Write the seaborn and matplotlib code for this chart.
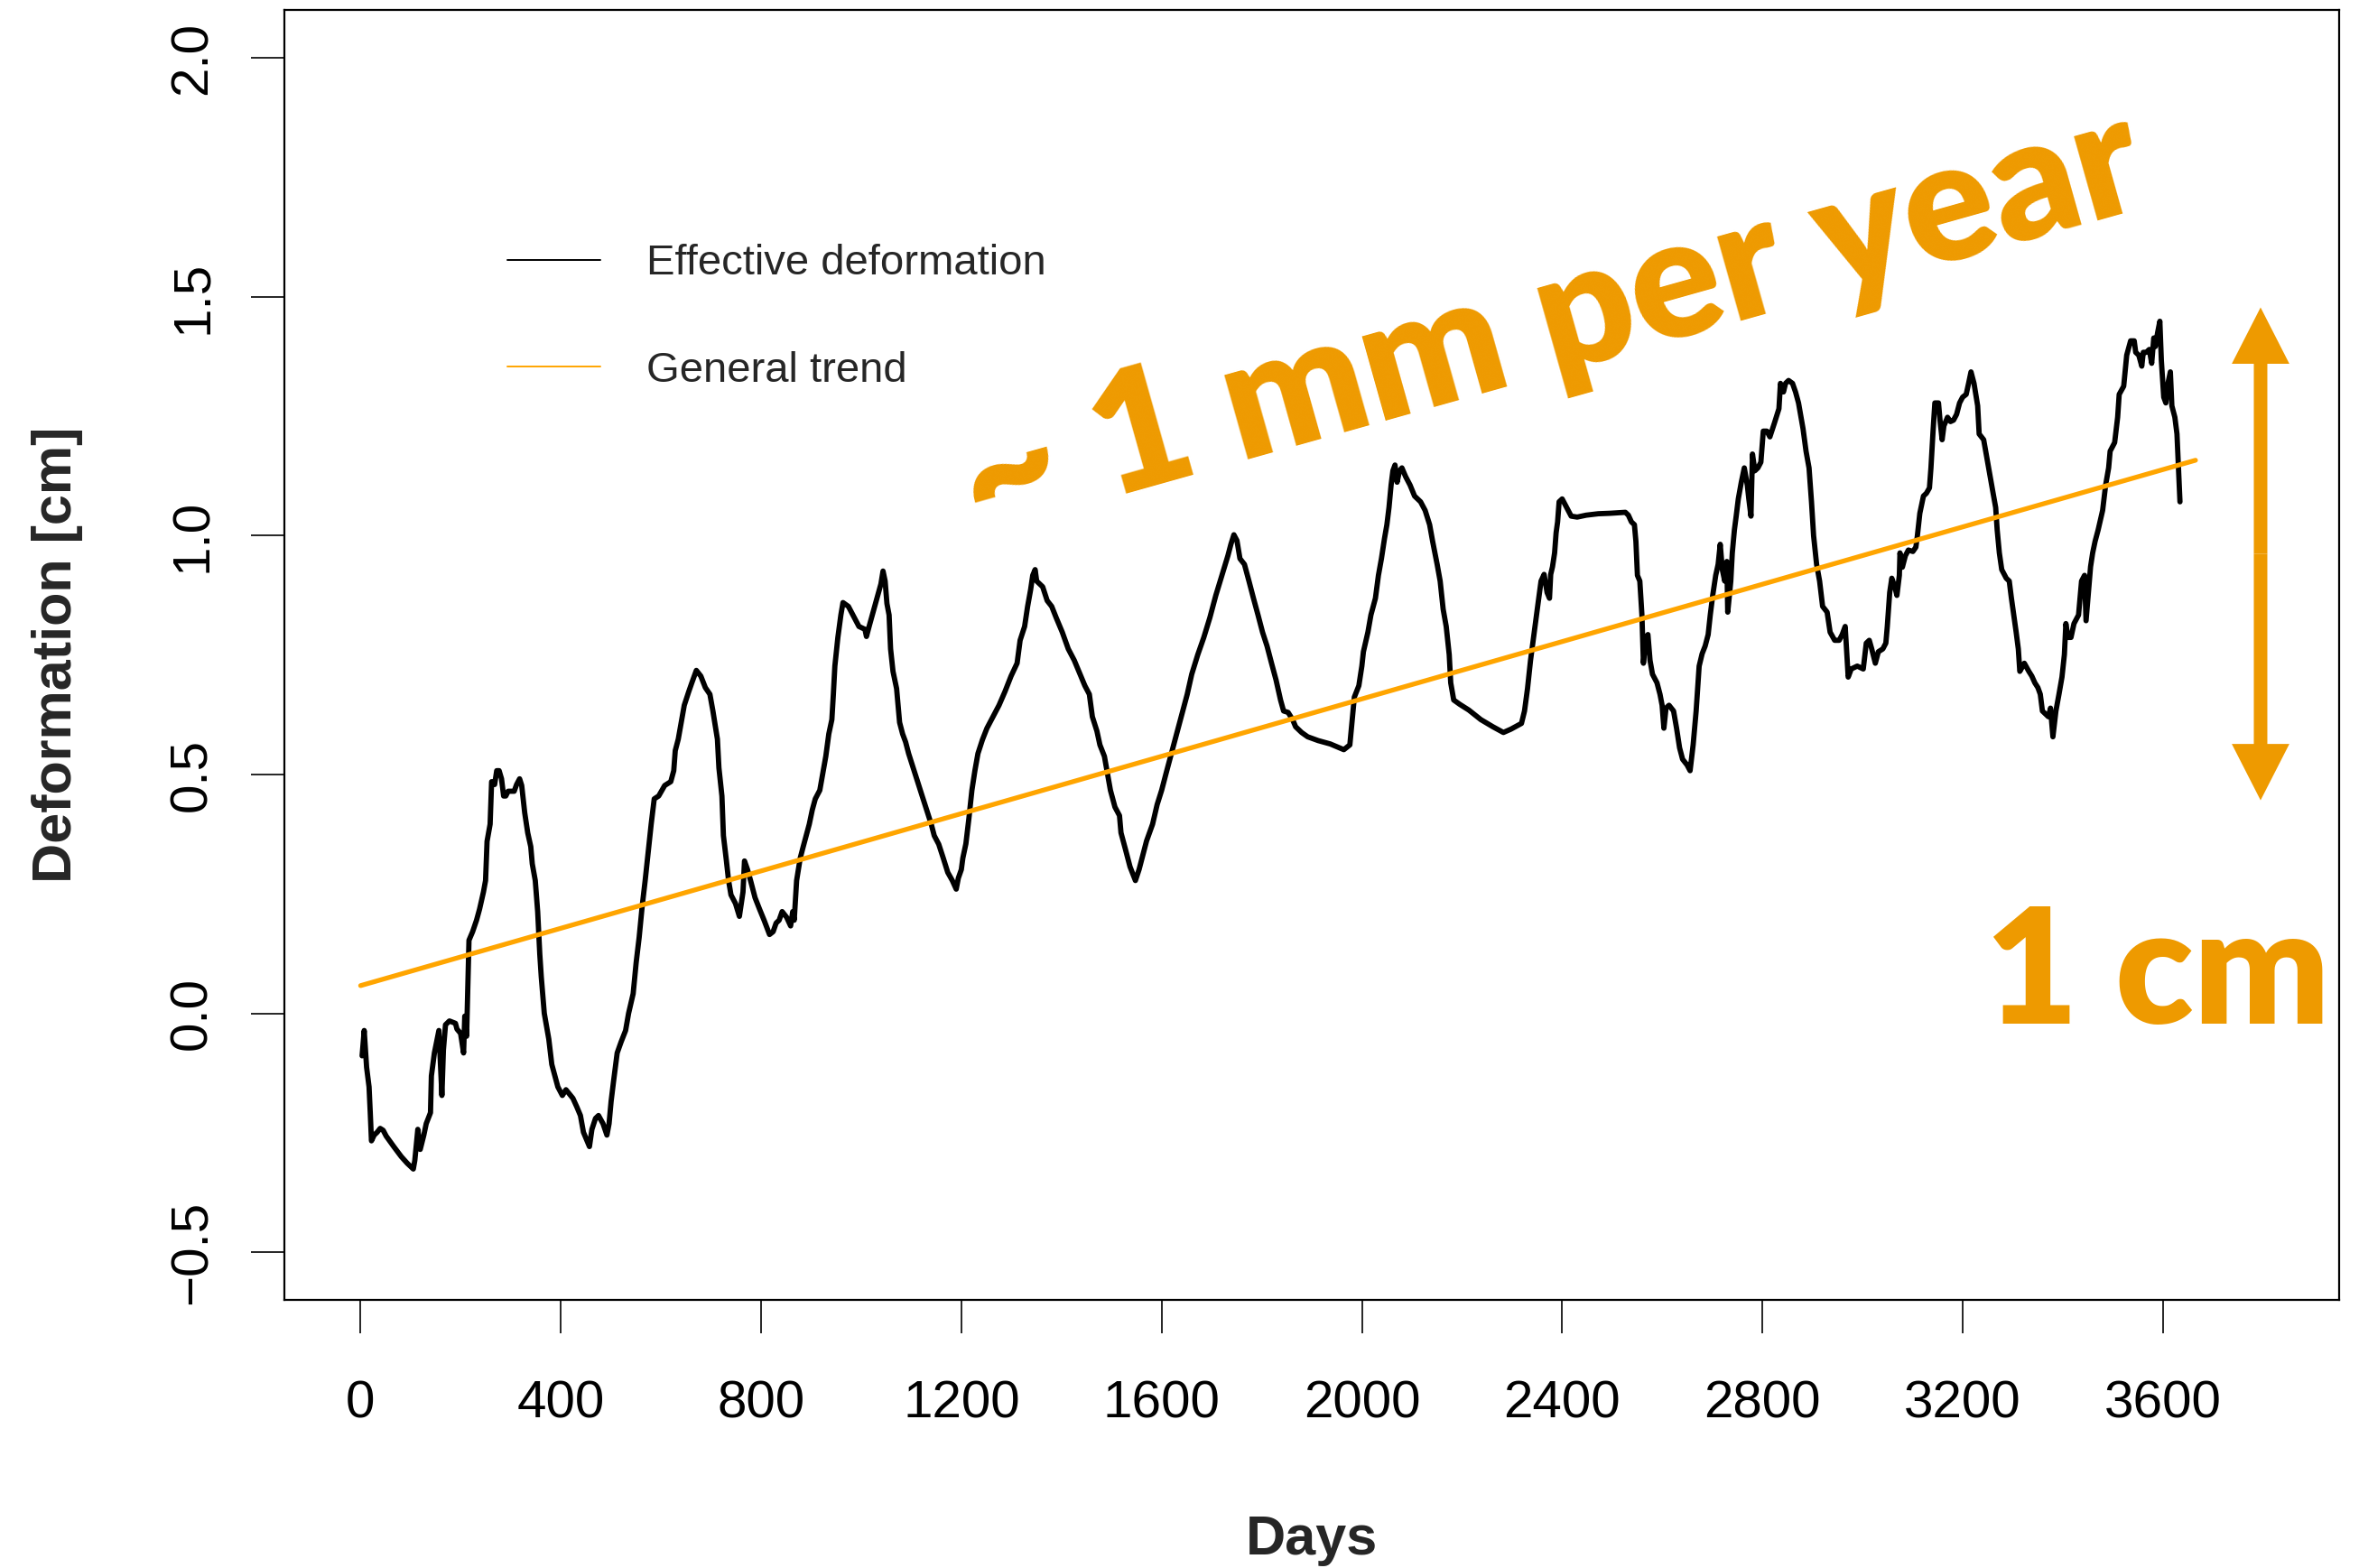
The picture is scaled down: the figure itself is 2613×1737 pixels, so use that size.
import matplotlib
matplotlib.use("Agg")
import matplotlib.pyplot as plt
import pandas as pd
import seaborn as sns
from matplotlib.lines import Line2D

# Measured surface deformation (days since start of record, cm)
days = [
    3.0, 7.2, 12.0, 16.9, 19.3, 21.7, 27.1, 33.1, 39.1, 45.1, 51.1, 66.2, 81.2, 93.2,
    105.3, 108.3, 114.3, 119.1, 126.3, 131.1, 139.6, 141.4, 147.4, 156.4, 162.4, 165.4,
    169.6, 177.4, 189.5, 192.5, 199.7, 205.7, 208.1, 211.7, 216.5, 223.8, 231.6, 237.6,
    245.4, 249.6, 252.6, 258.7, 261.7, 267.7, 271.9, 276.7, 281.5, 285.7, 290.0, 294.7,
    306.8, 311.6, 317.6, 321.8, 327.8, 333.8, 339.9, 342.9, 348.9, 353.7, 357.9, 360.9,
    366.9, 375.9, 381.9, 388.0, 394.0, 403.0, 410.2, 424.1, 431.9, 439.1, 445.1, 457.1,
    462.0, 469.2, 475.2, 484.2, 492.0, 496.3, 500.4, 505.3, 512.5, 520.3, 529.3, 535.3,
    544.4, 550.4, 556.4, 562.4, 568.4, 574.4, 580.4, 586.5,
    595.4, 607.4, 619.5, 625.5, 628.5, 634.5, 640.5, 646.5, 655.6, 661.6, 670.6, 679.6,
    688.6, 697.7, 703.7, 712.7, 715.7, 721.7, 724.7, 730.7, 735.0, 739.8, 748.8, 756.6,
    763.8, 766.8, 772.8, 778.9, 787.9, 796.9, 805.9, 816.8, 824.0, 830.0, 836.0, 842.0,
    851.0, 858.9, 863.1, 866.1, 870.9, 878.1, 884.1, 890.1, 896.2, 902.2, 908.2, 917.2,
    923.2, 929.2, 935.2, 941.3, 944.3, 947.3, 953.3, 959.3, 963.5, 974.3, 983.4, 995.4,
    1007.4, 1010.4, 1016.5, 1023.7, 1031.5, 1039.3, 1043.5, 1047.7, 1051.3, 1055.6,
    1058.6, 1063.4, 1070.6, 1076.6, 1082.6, 1088.6, 1094.6, 1103.7, 1112.7, 1121.7,
    1130.7, 1139.8, 1145.8, 1154.8, 1163.8, 1172.8, 1181.9, 1189.7, 1193.9, 1199.9, 1202.9,
    1209.0, 1215.0, 1221.0, 1227.0, 1233.1, 1242.1, 1251.1, 1263.1, 1275.2, 1287.2,
    1299.2, 1311.3, 1317.3, 1326.3, 1332.3, 1338.3, 1342.5, 1347.3, 1350.4, 1362.4,
    1371.4, 1380.4, 1389.5, 1401.5, 1413.5, 1425.5, 1434.6, 1446.6, 1455.6, 1461.6,
    1470.7, 1476.7, 1485.7, 1491.7, 1497.7, 1506.7, 1515.8, 1518.8, 1527.8, 1536.8,
    1547.6, 1554.9, 1560.9, 1569.9, 1581.9, 1591.0, 1600.0, 1609.0, 1618.0, 1627.1,
    1639.1, 1651.1, 1660.1, 1672.2, 1684.2, 1696.2, 1708.2, 1720.3, 1732.3, 1738.3,
    1744.3, 1750.4, 1756.4, 1765.4, 1774.4, 1783.4, 1792.5, 1801.5, 1810.5, 1819.5, 1828.5,
    1837.5, 1843.6, 1852.6, 1861.6, 1867.6, 1879.6, 1891.7, 1912.7, 1936.8, 1963.9,
    1975.9, 1980.1, 1984.9, 1993.9, 1999.9, 2003.0, 2012.0, 2018.0, 2027.0, 2033.0,
    2039.0, 2045.1, 2049.9, 2054.1, 2058.3, 2061.9, 2066.1, 2070.3, 2075.1, 2079.9,
    2087.2, 2096.2, 2105.2, 2117.2, 2126.3, 2135.3, 2141.3, 2150.3, 2156.3, 2162.3,
    2168.4, 2174.4, 2177.4, 2183.4, 2195.4, 2213.5, 2237.5, 2261.6, 2282.6, 2297.7,
    2318.7, 2324.8, 2330.8, 2336.8, 2342.8, 2351.8, 2357.8, 2363.9, 2369.9, 2374.7,
    2377.1, 2380.7, 2384.9, 2387.9, 2390.9, 2393.9, 2400.0, 2409.0, 2418.0, 2430.0,
    2448.0, 2472.1, 2496.2, 2526.2, 2532.2, 2538.3, 2544.3, 2547.3, 2550.3, 2555.1,
    2559.3, 2562.3, 2567.1, 2571.3, 2575.5, 2580.4, 2589.4, 2595.4, 2599.6, 2603.2,
    2607.4, 2613.4, 2622.5, 2628.5, 2634.5, 2640.5, 2649.5, 2655.5, 2661.6, 2667.6,
    2673.6, 2679.6, 2685.6, 2691.6, 2695.8, 2700.7, 2706.7, 2711.5, 2715.7, 2719.9,
    2724.7, 2728.9, 2730.7, 2736.8, 2739.8, 2744.0, 2747.6, 2751.8, 2757.8, 2763.8,
    2769.8, 2772.8, 2777.1, 2780.1, 2784.9, 2790.9, 2796.9, 2801.7, 2808.9, 2814.9,
    2824.0, 2833.0, 2836.0, 2842.0, 2846.2, 2852.2, 2860.1, 2866.1, 2872.1, 2881.1,
    2887.1, 2893.1, 2898.0, 2902.2, 2908.2, 2914.2, 2920.2, 2929.2, 2935.2, 2944.3,
    2953.3, 2959.3, 2965.3, 2971.3, 2977.4, 2989.4, 3001.4, 3007.4, 3013.4, 3018.3,
    3025.5, 3031.5, 3040.5, 3046.5,
    3049.4, 3054.2, 3058.4, 3064.4, 3068.6, 3073.5, 3074.7, 3079.5, 3085.5, 3091.5,
    3100.5, 3106.5, 3109.5, 3114.4, 3121.6, 3127.6, 3133.6, 3136.6, 3140.8, 3144.4,
    3151.7, 3154.7, 3158.9, 3162.5, 3169.7, 3175.7, 3181.7, 3187.8, 3193.8, 3199.8,
    3207.0, 3211.8, 3216.6, 3222.6, 3229.9, 3232.9, 3241.9, 3247.9, 3253.9, 3259.9,
    3265.9, 3268.9, 3273.2, 3278.0, 3287.0, 3293.0, 3297.2, 3302.0, 3306.8, 3311.1,
    3314.1, 3323.1, 3332.1, 3338.1, 3344.1, 3350.2, 3355.0, 3359.2, 3365.2, 3371.2,
    3375.4, 3380.2, 3386.2, 3392.3, 3398.3, 3403.1, 3406.1, 3410.3, 3416.3, 3422.3,
    3431.4, 3437.4, 3443.4, 3446.4, 3451.2, 3455.4, 3459.6, 3464.4, 3470.5, 3479.5,
    3485.5, 3491.5, 3494.5, 3503.5, 3509.5, 3512.6, 3521.6, 3527.6, 3535.4, 3542.6,
    3545.6, 3551.7, 3557.7, 3560.7, 3566.7, 3572.7, 3577.5, 3581.7, 3584.7, 3589.5,
    3593.8, 3596.8, 3601.6, 3605.8, 3610.0, 3614.8, 3617.8, 3623.8, 3628.0, 3631.0, 3634.0,
]
deformation = [
    -0.089, -0.036, -0.113, -0.154, -0.208, -0.267, -0.255, -0.249, -0.241, -0.245, -0.257,
    -0.279, -0.300, -0.314, -0.326, -0.308, -0.243, -0.285, -0.255, -0.231, -0.208, -0.131,
    -0.083, -0.036, -0.172, -0.077, -0.024, -0.016, -0.021, -0.033, -0.042, -0.083, -0.006,
    -0.048, 0.153, 0.171, 0.195, 0.218, 0.254, 0.278, 0.360, 0.396, 0.485, 0.479, 0.508,
    0.508, 0.491, 0.455, 0.455, 0.465, 0.465, 0.479, 0.491, 0.477, 0.420, 0.378, 0.349,
    0.313, 0.278, 0.213, 0.124, 0.076, 0.000, -0.054, -0.107, -0.131, -0.154, -0.172,
    -0.160, -0.178, -0.196, -0.214, -0.249, -0.279, -0.243, -0.220, -0.214, -0.231, -0.255,
    -0.231, -0.184, -0.142, -0.083, -0.060, -0.036, 0.000, 0.041, 0.106, 0.159, 0.224,
    0.278, 0.337, 0.396, 0.449,
    0.455, 0.477, 0.485, 0.508, 0.550, 0.574, 0.609, 0.645, 0.674, 0.692, 0.718, 0.706,
    0.682, 0.668, 0.633, 0.574, 0.514, 0.455, 0.372, 0.319, 0.278, 0.248, 0.230, 0.203,
    0.254, 0.319, 0.301, 0.278, 0.242, 0.218, 0.195, 0.165, 0.171, 0.189, 0.195, 0.213,
    0.201, 0.183, 0.213, 0.195, 0.278, 0.325, 0.349, 0.372, 0.396, 0.426, 0.449, 0.467,
    0.502, 0.538, 0.585, 0.615, 0.668, 0.727, 0.787, 0.834, 0.860, 0.852, 0.834, 0.810,
    0.804, 0.789, 0.813, 0.840, 0.870, 0.899, 0.926, 0.905, 0.858, 0.834,
    0.763, 0.716, 0.680, 0.609, 0.585, 0.568, 0.544, 0.514, 0.485, 0.455,
    0.426, 0.396, 0.372, 0.354, 0.325, 0.295, 0.278, 0.260, 0.283, 0.301, 0.325,
    0.355, 0.408, 0.467, 0.508, 0.544, 0.573, 0.597, 0.621, 0.645, 0.674,
    0.706, 0.733, 0.781, 0.810, 0.852, 0.887, 0.917, 0.929, 0.905, 0.893,
    0.864, 0.852, 0.828, 0.798, 0.763, 0.739, 0.716, 0.686, 0.668, 0.621,
    0.591, 0.562, 0.538, 0.503, 0.467, 0.432, 0.414, 0.378, 0.343, 0.307,
    0.278, 0.301, 0.325, 0.361, 0.396, 0.437, 0.467, 0.503, 0.538, 0.574,
    0.621, 0.668, 0.710, 0.751, 0.787, 0.828, 0.875, 0.917, 0.958, 0.982,
    1.002, 0.990, 0.952, 0.940, 0.905, 0.869, 0.834, 0.798, 0.769, 0.733, 0.698,
    0.656, 0.633, 0.630, 0.615, 0.600, 0.588, 0.579, 0.571, 0.564, 0.552,
    0.562, 0.609, 0.662, 0.686, 0.727, 0.757, 0.798, 0.834, 0.869, 0.917,
    0.952, 0.994, 1.023, 1.059, 1.106, 1.136, 1.148, 1.112, 1.136, 1.142,
    1.124, 1.106, 1.083, 1.071, 1.053, 1.023, 0.988, 0.940, 0.905, 0.846,
    0.810, 0.751, 0.692, 0.656, 0.647, 0.635, 0.615, 0.600, 0.588, 0.595,
    0.607, 0.633, 0.680, 0.739, 0.787, 0.858, 0.905, 0.919, 0.881, 0.869,
    0.919, 0.935, 0.964, 1.006, 1.029, 1.071, 1.077, 1.059, 1.041, 1.039,
    1.043, 1.046, 1.047, 1.049, 1.043, 1.029, 1.023, 0.988, 0.917, 0.905,
    0.834, 0.733, 0.787, 0.793, 0.739, 0.710, 0.692, 0.668, 0.645, 0.597,
    0.639, 0.645, 0.633, 0.597, 0.556, 0.532, 0.520, 0.508, 0.562, 0.633,
    0.727, 0.753, 0.769, 0.793, 0.834, 0.875, 0.917, 0.940, 0.982, 0.929,
    0.905, 0.946, 0.840, 0.905, 0.964, 1.012, 1.041, 1.077, 1.112, 1.142,
    1.106, 1.077, 1.041, 1.171, 1.136, 1.142, 1.154, 1.219, 1.219, 1.207,
    1.236, 1.266, 1.319, 1.301, 1.319, 1.325, 1.319, 1.301, 1.278, 1.224,
    1.177, 1.142, 1.071, 1.000, 0.940, 0.905, 0.852, 0.840, 0.798, 0.781,
    0.781, 0.793, 0.810, 0.704, 0.721, 0.727, 0.721, 0.775, 0.781, 0.763,
    0.733, 0.757, 0.763, 0.775,
    0.810, 0.881, 0.911, 0.893, 0.875, 0.917, 0.964, 0.934, 0.958, 0.970,
    0.967, 0.976, 1.000, 1.047, 1.083, 1.089, 1.100, 1.142, 1.219, 1.278,
    1.278, 1.242, 1.201, 1.230, 1.248, 1.239, 1.242, 1.254, 1.278, 1.290,
    1.296, 1.319, 1.343, 1.319, 1.272, 1.213, 1.201, 1.165, 1.130, 1.094,
    1.059, 1.012, 0.964, 0.929, 0.911, 0.905, 0.870, 0.834, 0.798, 0.763,
    0.716, 0.733, 0.716, 0.706, 0.692, 0.682, 0.668, 0.633, 0.627, 0.621,
    0.639, 0.579, 0.633, 0.668, 0.704, 0.751, 0.816, 0.787, 0.787, 0.816,
    0.834, 0.905, 0.917, 0.822, 0.881, 0.935, 0.964, 0.988, 1.012, 1.053,
    1.106, 1.142, 1.177, 1.195, 1.248, 1.296, 1.313, 1.378, 1.408, 1.408,
    1.384, 1.378, 1.355, 1.384, 1.384, 1.390, 1.361, 1.414, 1.396, 1.426,
    1.449, 1.367, 1.290, 1.278, 1.319, 1.343, 1.272, 1.248, 1.213, 1.142, 1.071,
]

# Fitted linear trend (start and end of the fitted line)
trend_days = [0, 3665]
trend_values = [0.058, 1.158]

x_ticks = [0, 400, 800, 1200, 1600, 2000, 2400, 2800, 3200, 3600]
y_ticks = [-0.5, 0.0, 0.5, 1.0, 1.5, 2.0]
y_tick_labels = ["\u22120.5", "0.0", "0.5", "1.0", "1.5", "2.0"]
series_labels = ["Effective deformation", "General trend"]
rate_label = "~ 1 mm per year"
span_label = "1 cm"
span_bottom, span_top = 0.446, 1.478

TREND_COLOR = "#FFA500"
NOTE_COLOR = "#EE9A00"

sns.set_style("ticks")
plt.rcParams["font.family"] = ["Liberation Sans", "DejaVu Sans"]
plt.rcParams["axes.unicode_minus"] = True

fig = plt.figure(figsize=(26.13, 17.37), dpi=100)
ax = fig.add_axes([0.1206, 0.1710, 0.8710, 0.8224])

obs = pd.DataFrame({"Days": days, "Deformation": deformation})
trend = pd.DataFrame({"Days": trend_days, "Deformation": trend_values})

sns.lineplot(data=obs, x="Days", y="Deformation", color="black", lw=4.2,
             estimator=None, sort=False, ax=ax, zorder=3)
sns.lineplot(data=trend, x="Days", y="Deformation", color=TREND_COLOR, lw=3.8,
             estimator=None, sort=False, ax=ax, zorder=4)

ax.set_xlim(-152, 3952)
ax.set_ylim(-0.6, 2.1)

ax.set_xticks(x_ticks)
ax.set_xticklabels([str(t) for t in x_ticks])
ax.set_yticks(y_ticks)
ax.set_yticklabels(y_tick_labels, rotation=90, va="center")

ax.tick_params(axis="both", direction="out", length=26.6, width=1.2,
               color="black", labelsize=42, labelcolor="black")
ax.tick_params(axis="x", pad=37)
ax.tick_params(axis="y", pad=27)

for side in ["left", "right", "top", "bottom"]:
    ax.spines[side].set_visible(True)
    ax.spines[side].set_color("black")
    ax.spines[side].set_linewidth(1.6)

ax.set_xlabel("Days", fontsize=44, fontweight="bold")
ax.set_ylabel("Deformation [cm]", fontsize=44, fontweight="bold")
ax.xaxis.set_label_coords(0.5, -0.1664)
ax.yaxis.set_label_coords(-0.098, 0.5)

handles = [Line2D([], [], color="black", lw=1.4),
           Line2D([], [], color=TREND_COLOR, lw=1.4)]
ax.legend(handles, series_labels, loc="upper left",
          bbox_to_anchor=(0.2151, 0.8445), bbox_transform=fig.transFigure,
          frameon=False, fontsize=34, handlelength=2.17, handletextpad=1.1,
          labelspacing=1.58, borderpad=0, borderaxespad=0)

# Annotations: trend rate and the one-centimetre scale arrow
ax.text(2405, 1.345, rate_label, rotation=15.7, rotation_mode="anchor",
        ha="center", va="baseline", fontsize=134, fontweight="heavy",
        family=["Lato", "DejaVu Sans"], color=NOTE_COLOR, zorder=5)
ax.text(3590, -0.022, span_label, ha="center", va="baseline",
        fontsize=128, fontweight="heavy", family=["Lato", "DejaVu Sans"],
        color=NOTE_COLOR, clip_on=False, zorder=5)

mid = (span_bottom + span_top) / 2
for end in (span_top, span_bottom):
    ax.arrow(3795, mid, 0, end - mid, width=27, head_width=115,
             head_length=0.118, length_includes_head=True,
             color=NOTE_COLOR, lw=0, zorder=5)

fig.savefig("out.png", dpi=100)
